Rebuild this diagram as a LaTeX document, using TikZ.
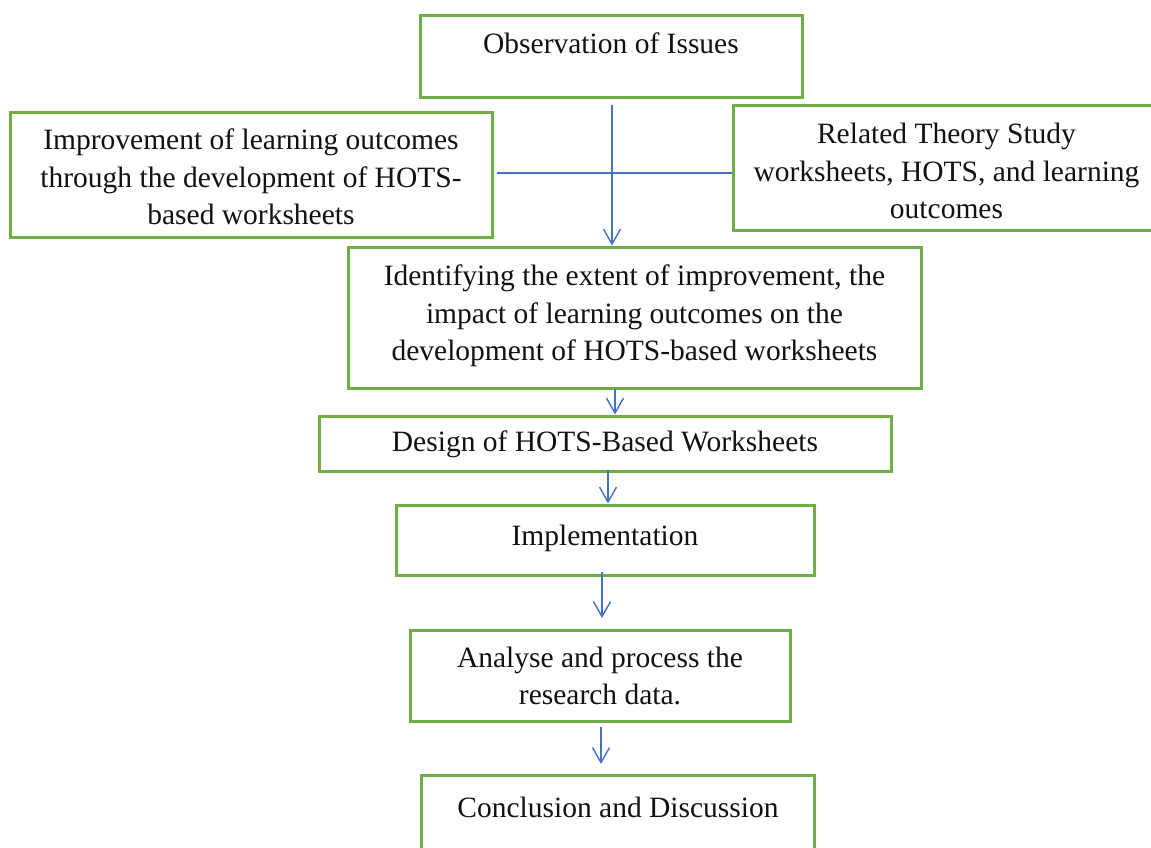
\documentclass[tikz,border=0pt]{standalone}
\usepackage{fontspec}
\setmainfont{Liberation Serif}
\usetikzlibrary{arrows.meta}
\definecolor{boxgreen}{HTML}{70AD47}
\definecolor{linkblue}{HTML}{4472C4}
\begin{document}
\begin{tikzpicture}[x=1pt,y=-1pt,
  flowbox/.style={draw=boxgreen, line width=3pt, rectangle, inner sep=0pt},
  txt/.style={inner sep=0pt, align=center, font=\fontsize{29.5pt}{37.5pt}\selectfont, text=black!93},
  conn/.style={draw=linkblue, line width=1.4pt},
  arr/.style={conn, -{Straight Barb[length=15pt,width=17pt,line width=1.4pt]}}]
\useasboundingbox (0,0) rectangle (1151,847);
\fill[white] (0,0) rectangle (1151,847);
% boxes
\node[flowbox, minimum width=382pt, minimum height=82pt] (b1) at (611,56) {};
\node[flowbox, minimum width=482pt, minimum height=125pt] (bL) at (251,174.5) {};
\node[flowbox, minimum width=427pt, minimum height=125pt] (bR) at (946.5,167.5) {};
\node[flowbox, minimum width=573pt, minimum height=141pt] (b3) at (634.5,317.5) {};
\node[flowbox, minimum width=572pt, minimum height=55pt] (b4) at (605,443.5) {};
\node[flowbox, minimum width=418pt, minimum height=70pt] (b5) at (605,540) {};
\node[flowbox, minimum width=380pt, minimum height=91pt] (b6) at (600,675.5) {};
\node[flowbox, minimum width=393pt, minimum height=100pt] (b7) at (618,825) {};
% texts
\node[txt, anchor=base] (t1) at (611,53) {Observation of Issues};
\node[txt] (tL) at (251,177) {Improvement of learning outcomes\\through the development of HOTS-\\based worksheets};
\node[txt] (tR) at (946.5,171) {Related Theory Study\\worksheets, HOTS, and learning\\outcomes};
\node[txt] (t3) at (634.5,316) {Identifying the extent of improvement, the\\impact of learning outcomes on the\\development of HOTS-based worksheets};
\node[txt] (t4) at (605,444) {Design of HOTS-Based Worksheets};
\node[txt, anchor=base] (t5) at (605,545) {Implementation};
\node[txt] (t6) at (600,676) {Analyse and process the\\research data.};
\node[txt, anchor=base] (t7) at (618,817) {Conclusion and Discussion};
% connectors
\coordinate (v1) at (612,105);
\coordinate (h1) at (497,173);
\draw[arr] (v1) -- (v1 |- b3.north);
\draw[conn] (h1) -- (h1 -| bR.west);
\coordinate (a3) at (615,389);
\draw[arr] (a3) -- (a3 |- b4.north);
\coordinate (a4) at (608,470);
\draw[arr] (a4) -- (a4 |- b5.north);
\coordinate (a5) at (602,572);
\coordinate (e5) at (602,618);
\draw[arr] (a5) -- (e5);
\coordinate (a6) at (601,727);
\coordinate (e6) at (601,764);
\draw[arr] (a6) -- (e6);
\end{tikzpicture}
\end{document}
